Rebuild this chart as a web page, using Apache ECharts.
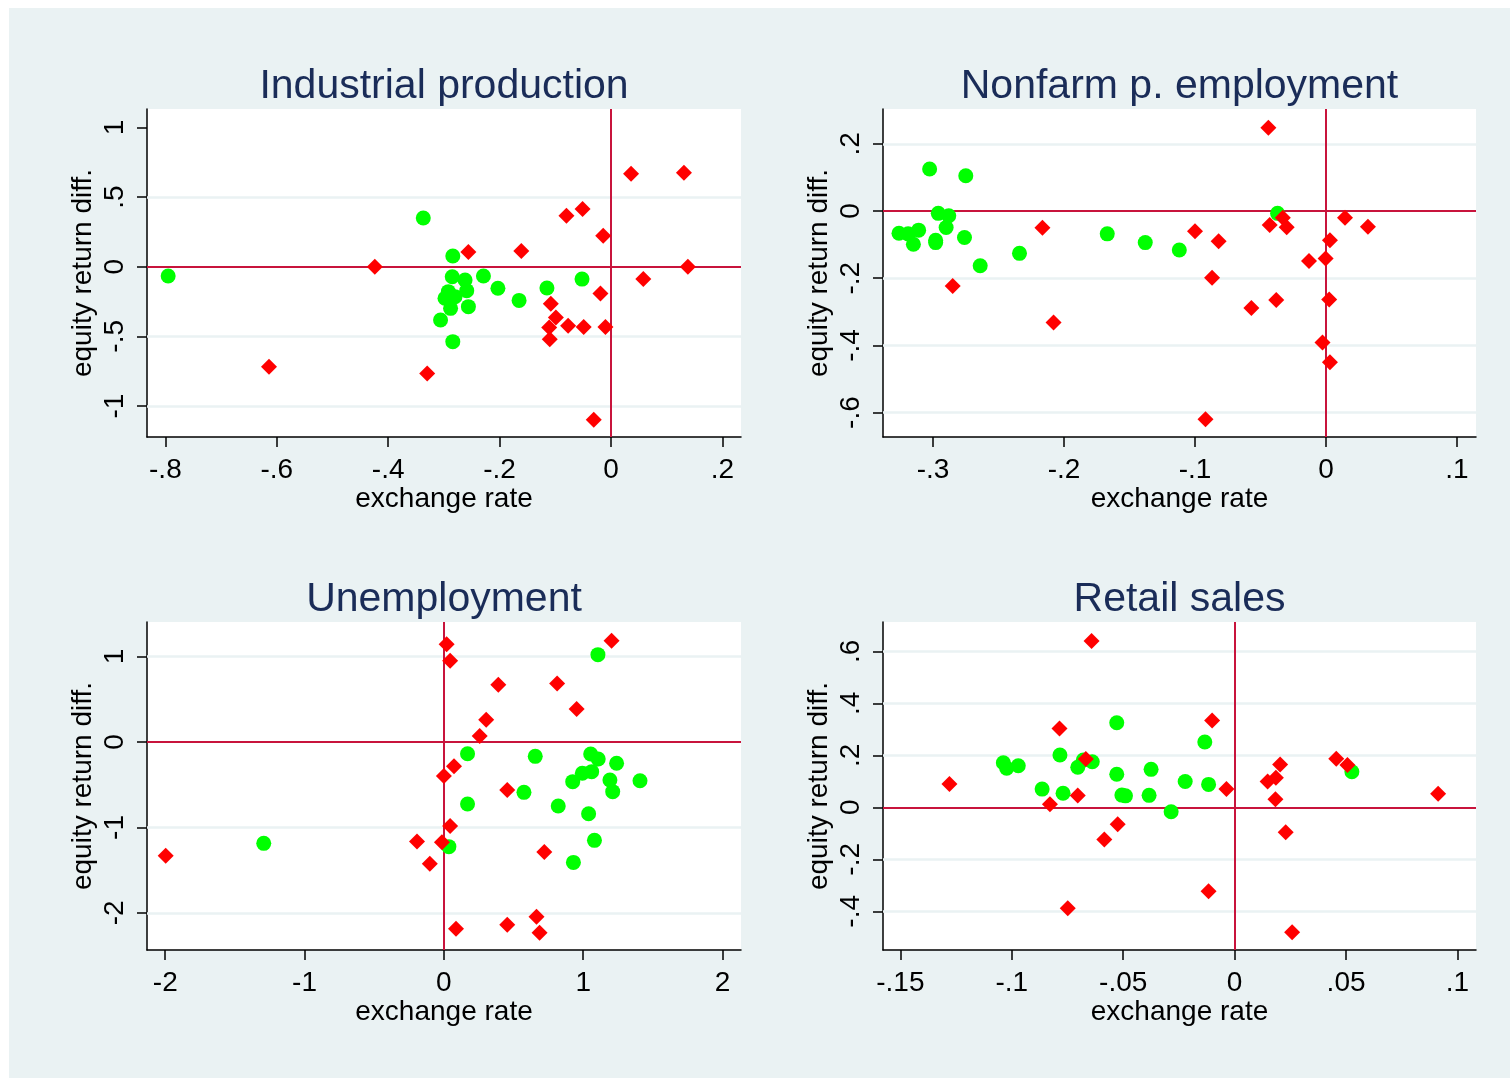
<!DOCTYPE html>
<html><head><meta charset="utf-8">
<script src="https://cdn.jsdelivr.net/npm/echarts@6/dist/echarts.min.js"></script>
<style>
html,body{margin:0;padding:0;background:#fff;}
#bg{position:absolute;left:9px;top:8px;width:1501px;height:1070px;background:#EAF2F3;}
#chart{position:absolute;left:0;top:0;width:1510px;height:1078px;}
</style></head><body><div id="bg"></div><div id="chart"></div>
<script>
// ---------- data ----------
var titles = ['Industrial production', 'Nonfarm p. employment', 'Unemployment', 'Retail sales'];
var xTitle = 'exchange rate';
var yTitle = 'equity return diff.';

var ipXTicks = [-0.8, -0.6, -0.4, -0.2, 0, 0.2];
var ipYTicks = [-1, -0.5, 0, 0.5, 1];
var ipYGrid = [-1, -0.5, 0.5];
var ipGreen = [[-0.795,-0.067],[-0.337,0.35],[-0.284,0.077],[-0.285,-0.072],[-0.262,-0.095],[-0.229,-0.067],[-0.203,-0.155],[-0.292,-0.179],[-0.259,-0.172],[-0.298,-0.227],[-0.280,-0.215],[-0.288,-0.299],[-0.256,-0.287],[-0.306,-0.383],[-0.284,-0.538],[-0.165,-0.242],[-0.115,-0.153],[-0.052,-0.089]];
var ipRed = [[-0.614,-0.719],[-0.424,0.0],[-0.330,-0.767],[-0.256,0.105],[-0.161,0.113],[-0.080,0.365],[-0.051,0.415],[-0.014,0.223],[0.036,0.667],[0.131,0.674],[0.138,0.0],[0.058,-0.089],[-0.019,-0.192],[-0.108,-0.266],[-0.099,-0.365],[-0.111,-0.436],[-0.077,-0.424],[-0.049,-0.432],[-0.010,-0.432],[-0.110,-0.52],[-0.031,-1.098]];

var nfXTicks = [-0.3, -0.2, -0.1, 0, 0.1];
var nfYTicks = [-0.6, -0.4, -0.2, 0, 0.2];
var nfYGrid = [-0.6, -0.4, -0.2, 0.2];
var nfGreen = [[-0.3026,0.125],[-0.275,0.105],[-0.296,-0.007],[-0.288,-0.014],[-0.290,-0.049],[-0.326,-0.066],[-0.319,-0.068],[-0.311,-0.057],[-0.315,-0.099],[-0.298,-0.094],[-0.298,-0.087],[-0.276,-0.079],[-0.264,-0.163],[-0.234,-0.126],[-0.167,-0.068],[-0.138,-0.094],[-0.112,-0.116],[-0.037,-0.007]];
var nfRed = [[-0.044,0.248],[-0.2165,-0.05],[-0.285,-0.223],[-0.208,-0.332],[-0.100,-0.060],[-0.082,-0.090],[-0.087,-0.199],[-0.043,-0.042],[-0.033,-0.020],[-0.030,-0.048],[0.0145,-0.020],[0.032,-0.047],[0.003,-0.087],[-0.013,-0.149],[-0.0003,-0.141],[-0.038,-0.265],[-0.057,-0.289],[0.0024,-0.263],[-0.0027,-0.391],[0.003,-0.450],[-0.092,-0.620]];

var unXTicks = [-2, -1, 0, 1, 2];
var unYTicks = [-2, -1, 0, 1];
var unYGrid = [-2, -1, 1];
var unGreen = [[-1.293,-1.186],[0.170,-0.137],[0.656,-0.168],[1.054,-0.140],[1.108,-0.199],[1.240,-0.249],[1.061,-0.347],[0.994,-0.366],[0.925,-0.464],[1.192,-0.444],[1.408,-0.453],[1.212,-0.581],[0.575,-0.589],[0.170,-0.726],[0.821,-0.749],[1.039,-0.839],[1.081,-1.151],[0.930,-1.409],[0.036,-1.225],[1.106,1.022]];
var unRed = [[-1.997,-1.330],[0.020,1.143],[0.045,0.952],[1.204,1.186],[0.391,0.671],[0.813,0.683],[0.953,0.386],[0.304,0.261],[0.257,0.070],[0.073,-0.285],[0.0,-0.398],[0.455,-0.562],[0.045,-0.983],[-0.193,-1.163],[-0.014,-1.174],[-0.101,-1.424],[0.721,-1.288],[0.665,-2.044],[0.687,-2.232],[0.455,-2.138],[0.087,-2.185]];

var rsXTicks = [-0.15, -0.1, -0.05, 0, 0.05, 0.1];
var rsYTicks = [-0.4, -0.2, 0, 0.2, 0.4, 0.6];
var rsYGrid = [-0.4, -0.2, 0.2, 0.4, 0.6];
var rsGreen = [[-0.1038,0.1715],[-0.1023,0.150],[-0.0971,0.160],[-0.0864,0.070],[-0.0784,0.201],[-0.077,0.054],[-0.0704,0.154],[-0.0679,0.182],[-0.0639,0.175],[-0.0529,0.325],[-0.0529,0.127],[-0.0506,0.047],[-0.049,0.044],[-0.0375,0.146],[-0.0384,0.046],[-0.0285,-0.017],[-0.0222,0.099],[-0.0134,0.251],[-0.0117,0.088],[0.0526,0.137]];
var rsRed = [[-0.0642,0.640],[-0.0786,0.303],[-0.0668,0.186],[-0.128,0.090],[-0.0829,0.0115],[-0.0704,0.045],[-0.0525,-0.065],[-0.0585,-0.124],[-0.0749,-0.388],[-0.0117,-0.323],[-0.0101,0.334],[-0.0037,0.070],[0.0204,0.165],[0.0148,0.099],[0.0185,0.114],[0.0183,0.031],[0.0229,-0.096],[0.0456,0.187],[0.0506,0.163],[0.0913,0.052],[0.0258,-0.481]];

// ---------- layout / style ----------
var FONT = '"Liberation Sans", Arial, Helvetica, sans-serif';
var NAVY = '#1A2C58';
var REFRED = '#C8143C';
var GRIDC = '#EAF2F3';

var panels = [
  {title: titles[0], grid: {left:147, top:109, width:594, height:328}, xr:[-0.833,0.2334], yr:[-1.2225,1.132], xt:ipXTicks, yt:ipYTicks, yg:ipYGrid, g:ipGreen, r:ipRed},
  {title: titles[1], grid: {left:883, top:109, width:593, height:328}, xr:[-0.3382,0.1145], yr:[-0.6726,0.3036], xt:nfXTicks, yt:nfYTicks, yg:nfYGrid, g:nfGreen, r:nfRed},
  {title: titles[2], grid: {left:147, top:622, width:594, height:328}, xr:[-2.131,2.133], yr:[-2.434,1.404], xt:unXTicks, yt:unYTicks, yg:unYGrid, g:unGreen, r:unRed},
  {title: titles[3], grid: {left:883, top:622, width:593, height:328}, xr:[-0.1578,0.1083], yr:[-0.5488,0.7127], xt:rsXTicks, yt:rsYTicks, yg:rsYGrid, g:rsGreen, r:rsRed}
];

function fmt(v){
  var s = String(+(+v).toFixed(4));
  return s.replace(/^(-?)0\./, '$1.');
}

var option = {
  backgroundColor: 'transparent',
  animation: false,
  title: [], grid: [], xAxis: [], yAxis: [], series: []
};

panels.forEach(function(p, i){
  option.title.push({
    text: p.title, left: p.grid.left + p.grid.width/2 - 5, top: p.grid.top - 48, textAlign: 'center',
    textStyle: {fontSize: 41, fontWeight: 'normal', color: NAVY, fontFamily: FONT}
  });
  option.grid.push({left:p.grid.left, top:p.grid.top, width:p.grid.width, height:p.grid.height,
    show:true, backgroundColor:'#ffffff', borderWidth:0});
  option.xAxis.push({
    type:'value', gridIndex:i, min:p.xr[0], max:p.xr[1],
    name: xTitle, nameLocation:'middle', nameGap:47,
    nameTextStyle:{fontSize:28, color:'#000', fontFamily:FONT},
    axisLine:{show:true, onZero:false, lineStyle:{color:'#000', width:1.5}},
    axisTick:{show:true, length:10, customValues:p.xt, lineStyle:{color:'#000', width:1.5}},
    axisLabel:{show:true, customValues:p.xt, formatter:fmt, margin:19, fontSize:28, color:'#000', fontFamily:FONT},
    splitLine:{show:false}
  });
  option.yAxis.push({
    type:'value', gridIndex:i, min:p.yr[0], max:p.yr[1],
    name: yTitle, nameLocation:'middle', nameGap:50, nameRotate:90,
    nameTextStyle:{fontSize:28, color:'#000', fontFamily:FONT},
    axisLine:{show:true, onZero:false, lineStyle:{color:'#000', width:1.5}},
    axisTick:{show:true, length:10, customValues:p.yt, lineStyle:{color:'#000', width:1.5}},
    axisLabel:{show:true, customValues:p.yt, formatter:fmt, rotate:90, margin:18, fontSize:28, color:'#000', fontFamily:FONT},
    splitLine:{show:false}
  });
  var ml = [];
  p.yg.forEach(function(v){ ml.push({yAxis:v, lineStyle:{color:GRIDC, width:2.5, type:'solid'}}); });
  ml.push({xAxis:0, lineStyle:{color:REFRED, width:2, type:'solid'}});
  ml.push({yAxis:0, lineStyle:{color:REFRED, width:2, type:'solid'}});
  option.series.push({
    type:'scatter', xAxisIndex:i, yAxisIndex:i, data:p.g, z:3,
    symbol:'circle', symbolSize:15, itemStyle:{color:'#00FF00', opacity:1},
    markLine:{silent:true, symbol:['none','none'], label:{show:false}, z:1, animation:false, data:ml}
  });
  option.series.push({
    type:'scatter', xAxisIndex:i, yAxisIndex:i, data:p.r, z:4,
    symbol:'diamond', symbolSize:16, itemStyle:{color:'#FF0000', opacity:1}
  });
});

var chart = echarts.init(document.getElementById('chart'), null, {renderer:'canvas'});
chart.setOption(option);
</script></body></html>
